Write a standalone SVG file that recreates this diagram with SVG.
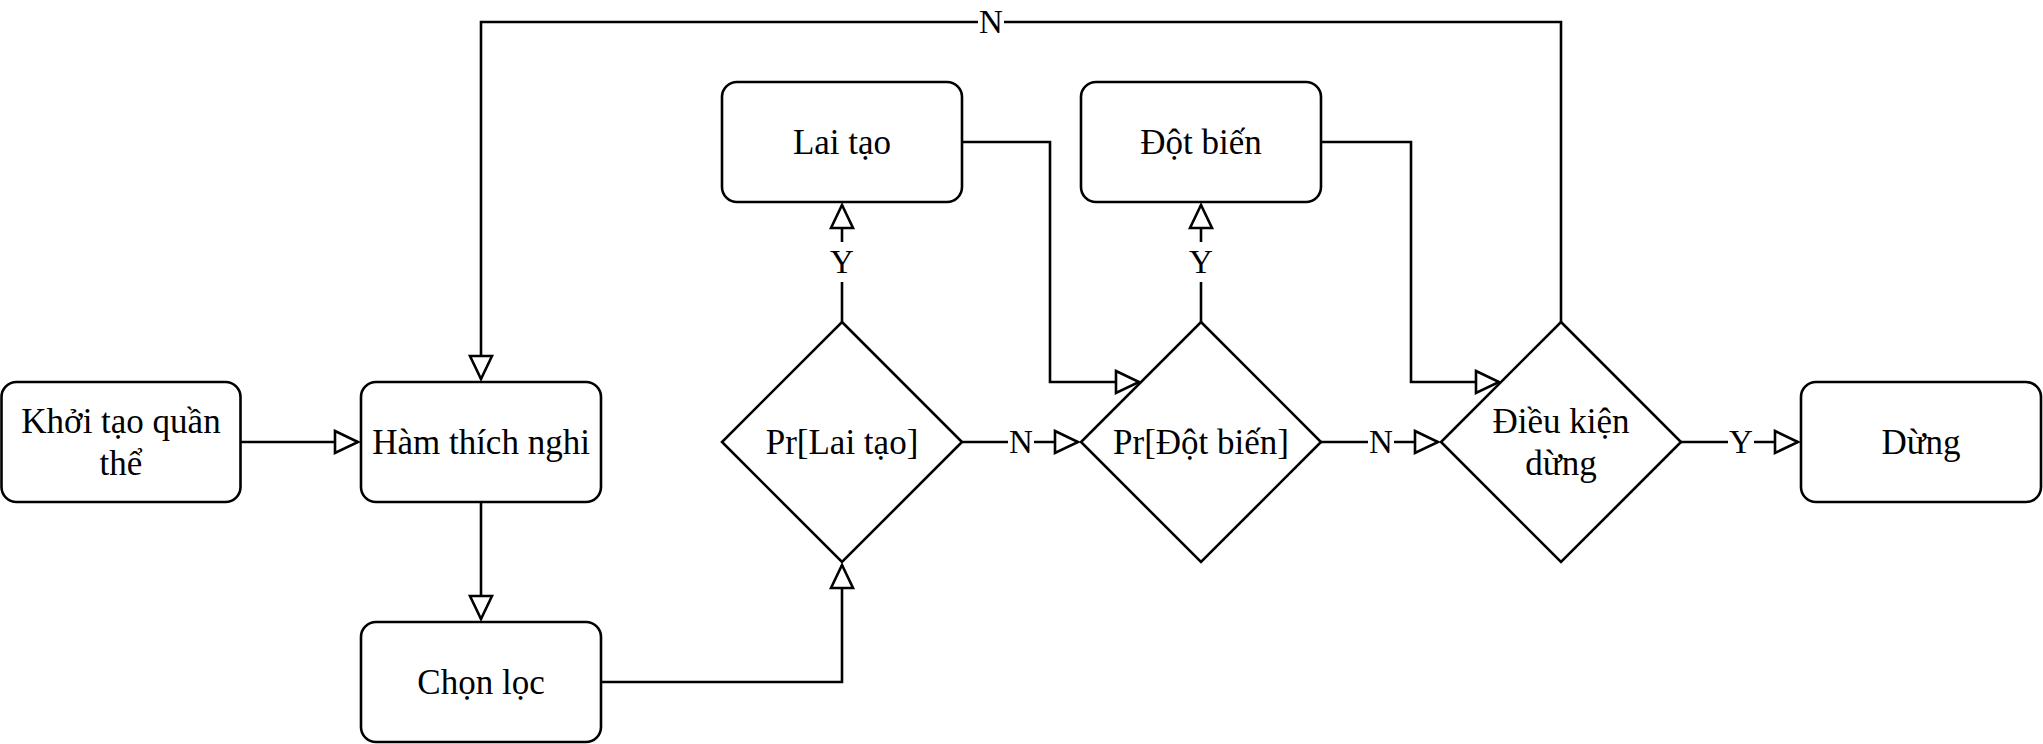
<svg xmlns="http://www.w3.org/2000/svg" width="2043" height="744" viewBox="0 0 2043 744" font-family="'Liberation Serif', serif">
<defs>
<style>
.box{fill:#fff;stroke:#000;stroke-width:2.6}
.dia{fill:#fff;stroke:#000;stroke-width:2.6}
.t{font-size:35px;fill:#000;text-anchor:middle}
.lt{font-size:33px;fill:#000;text-anchor:middle}
.edge{fill:none;stroke:#000;stroke-width:2.6;marker-end:url(#arr)}
.lbg{fill:#fff;stroke:none}
</style>
<marker id="arr" markerUnits="userSpaceOnUse" markerWidth="30" markerHeight="30" viewBox="-3 -3 30 30" refX="23" refY="11" orient="auto">
<path d="M0,0 L23,11 L0,22 Z" fill="#fff" stroke="#000" stroke-width="2.6"/>
</marker>
</defs>
<rect width="2043" height="744" fill="#fff"/>
<g id="connectors">
<path class="edge" d="M241,442 H358"/>
<path class="edge" d="M481,502 V619"/>
<path class="edge" d="M601,682 H842 V565"/>
<path class="edge" d="M842,322 V205"/>
<path class="edge" d="M962,442 H1078"/>
<path class="edge" d="M962,142 H1050 V382 H1139"/>
<path class="edge" d="M1201,322 V205"/>
<path class="edge" d="M1321,442 H1438"/>
<path class="edge" d="M1321,142 H1411 V382 H1499"/>
<path class="edge" d="M1681,442 H1798"/>
<path class="edge" d="M1561,322 V22 H481 V379"/>
<rect class="lbg" x="829" y="242" width="26" height="40"/>
<text class="lt" x="842" y="273" font-family="'Liberation Serif', serif">Y</text>
<rect class="lbg" x="1188" y="242" width="26" height="40"/>
<text class="lt" x="1201" y="273" font-family="'Liberation Serif', serif">Y</text>
<rect class="lbg" x="1008" y="422" width="26" height="40"/>
<text class="lt" x="1021" y="453" font-family="'Liberation Serif', serif">N</text>
<rect class="lbg" x="1368" y="422" width="26" height="40"/>
<text class="lt" x="1381" y="453" font-family="'Liberation Serif', serif">N</text>
<rect class="lbg" x="1728" y="422" width="26" height="40"/>
<text class="lt" x="1741" y="453" font-family="'Liberation Serif', serif">Y</text>
<rect class="lbg" x="978" y="2" width="26" height="40"/>
<text class="lt" x="991" y="33" font-family="'Liberation Serif', serif">N</text>
</g>
<g id="khoi-tao" font-family="'Liberation Serif', serif">
<rect class="box" x="1.5" y="382" width="239" height="120" rx="15"/>
<text class="t" x="121" y="433">Khởi tạo quần</text>
<text class="t" x="121" y="475">thể</text>
</g>
<g id="ham-thich-nghi" font-family="'Liberation Serif', serif">
<rect class="box" x="361" y="382" width="240" height="120" rx="15"/>
<text class="t" x="481" y="454">Hàm thích nghi</text>
</g>
<g id="chon-loc" font-family="'Liberation Serif', serif">
<rect class="box" x="361" y="622" width="240" height="120" rx="15"/>
<text class="t" x="481" y="694">Chọn lọc</text>
</g>
<g id="lai-tao" font-family="'Liberation Serif', serif">
<rect class="box" x="722" y="82" width="240" height="120" rx="15"/>
<text class="t" x="842" y="154">Lai tạo</text>
</g>
<g id="dot-bien" font-family="'Liberation Serif', serif">
<rect class="box" x="1081" y="82" width="240" height="120" rx="15"/>
<text class="t" x="1201" y="154">Đột biến</text>
</g>
<g id="pr-lai-tao" font-family="'Liberation Serif', serif">
<path class="dia" d="M842,322 L962,442 L842,562 L722,442 Z"/>
<text class="t" x="842" y="454">Pr[Lai tạo]</text>
</g>
<g id="pr-dot-bien" font-family="'Liberation Serif', serif">
<path class="dia" d="M1201,322 L1321,442 L1201,562 L1081,442 Z"/>
<text class="t" x="1201" y="454">Pr[Đột biến]</text>
</g>
<g id="dieu-kien-dung" font-family="'Liberation Serif', serif">
<path class="dia" d="M1561,322 L1681,442 L1561,562 L1441,442 Z"/>
<text class="t" x="1561" y="433">Điều kiện</text>
<text class="t" x="1561" y="475">dừng</text>
</g>
<g id="dung" font-family="'Liberation Serif', serif">
<rect class="box" x="1801" y="382" width="240" height="120" rx="15"/>
<text class="t" x="1921" y="454">Dừng</text>
</g>
</svg>
